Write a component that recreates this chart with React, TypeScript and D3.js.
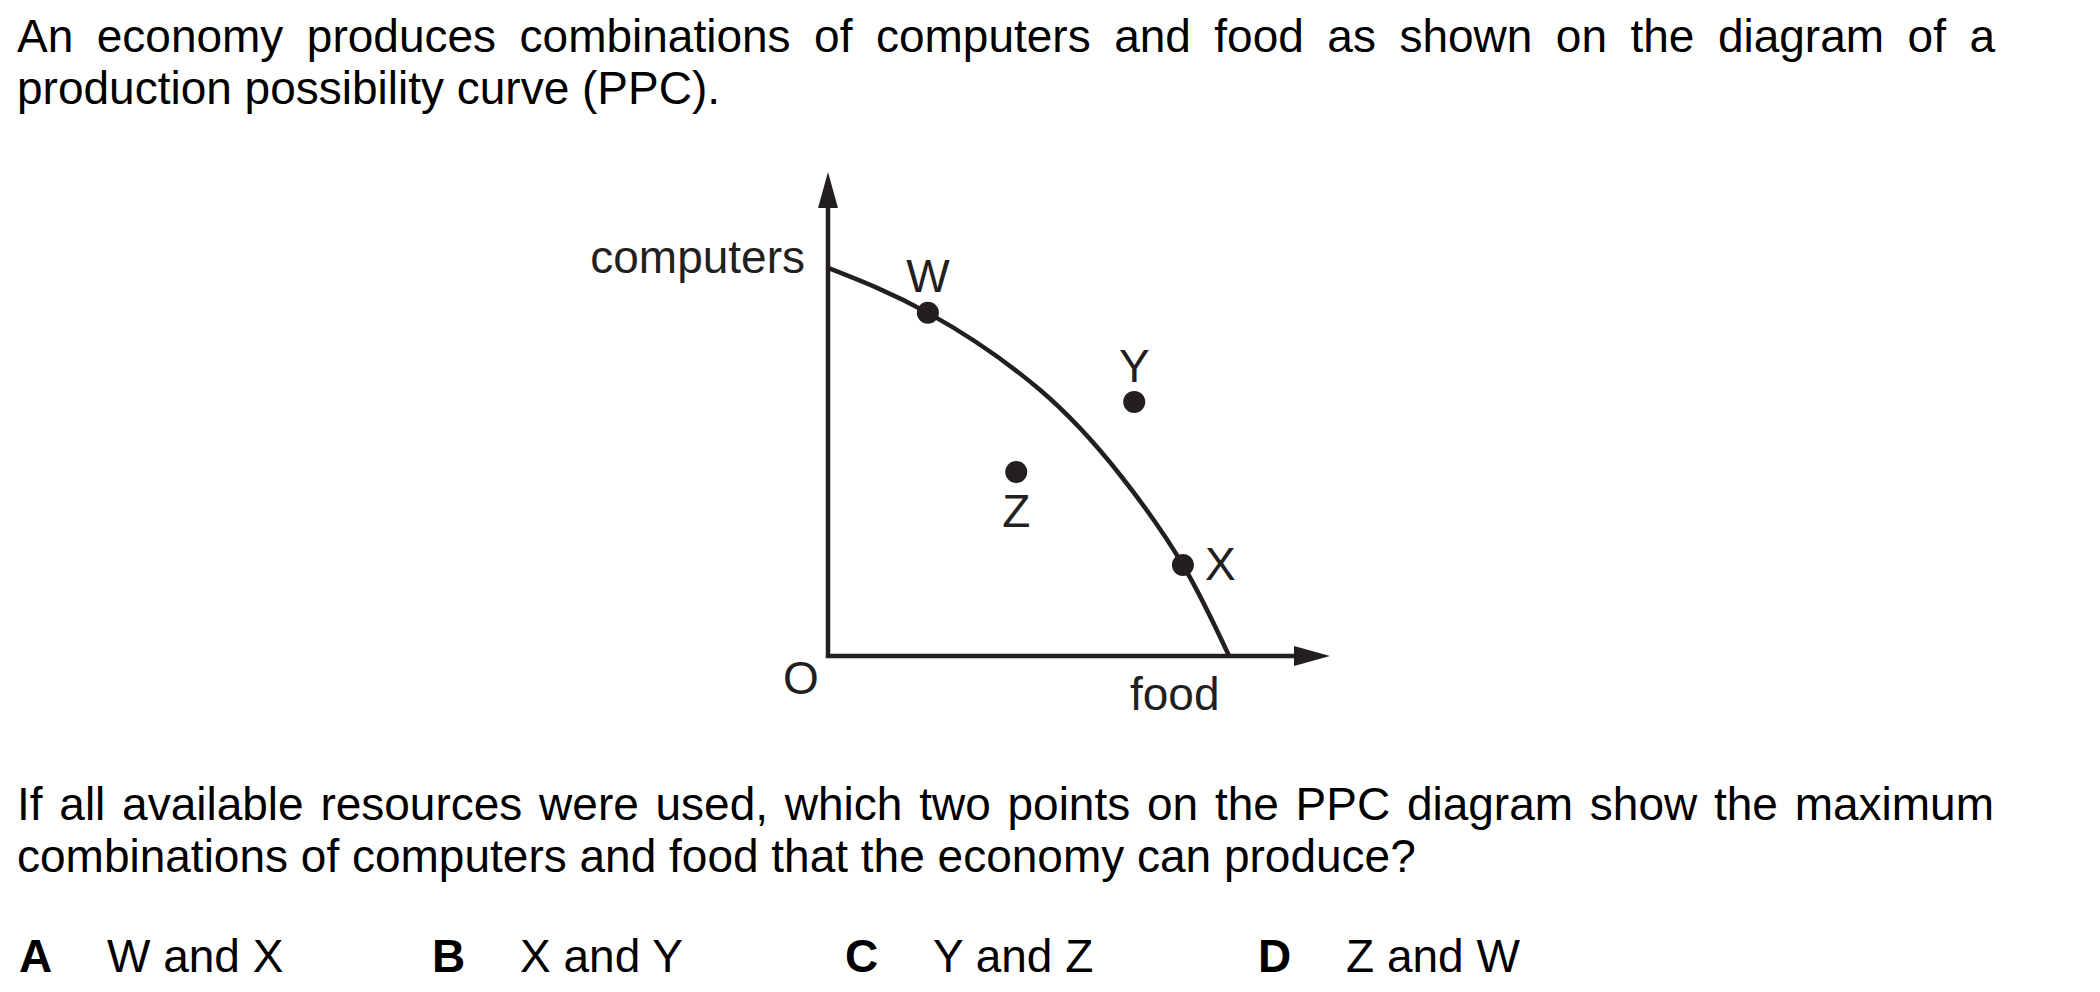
import React, { useEffect, useRef } from "react";
import * as d3 from "d3";

// ---- text content ----
const introLine1 = "An economy produces combinations of computers and food as shown on the diagram of a";
const introLine2 = "production possibility curve (PPC).";
const questionLine1 = "If all available resources were used, which two points on the PPC diagram show the maximum";
const questionLine2 = "combinations of computers and food that the economy can produce?";
const optionLetters = ["A", "B", "C", "D"];
const optionTexts = ["W and X", "X and Y", "Y and Z", "Z and W"];

// ---- diagram data (food, computers in arbitrary units 0..10) ----
const curveFood = [0, 1.99, 4.22, 5.82, 7.07, 7.99];
const curveComputers = [8.02, 7.09, 5.5, 3.74, 1.88, 0];
const pointNames = ["W", "X", "Y", "Z"];
const pointFood = [1.99, 7.07, 6.1, 3.75];
const pointComputers = [7.09, 1.88, 5.25, 3.8];
const axisLabelY = "computers";
const axisLabelX = "food";
const originLabel = "O";

const FONT = "'Liberation Sans', Arial, Helvetica, sans-serif";
const FS = 46;
const INK = "#231f20";

export default function App() {
  const ref = useRef<SVGSVGElement>(null);

  useEffect(() => {
    const draw = () => {
      const svg = d3.select(ref.current);
      svg.selectAll("*").remove();
      svg.append("rect").attr("width", 2100).attr("height", 992).attr("fill", "#fff");

      const textG = svg.append("g").attr("font-family", FONT).attr("font-size", FS).attr("fill", "#000");

      const justify = (line: string, x0: number, x1: number, y: number) => {
        const words = line.split(" ");
        const nodes = words.map((w) => textG.append("text").attr("x", 0).attr("y", y).text(w));
        const widths = nodes.map((n) => (n.node() as SVGTextElement).getComputedTextLength());
        const total = d3.sum(widths);
        const gap = (x1 - x0 - total) / (words.length - 1);
        let cx = x0;
        nodes.forEach((n, i) => {
          n.attr("x", cx);
          cx += widths[i] + gap;
        });
      };

      justify(introLine1, 17, 1995, 52);
      textG.append("text").attr("x", 17).attr("y", 104).text(introLine2);
      justify(questionLine1, 17, 1994, 820);
      textG.append("text").attr("x", 17).attr("y", 872).text(questionLine2);

      optionLetters.forEach((l, i) => {
        const lx = 19 + i * 413;
        textG.append("text").attr("x", lx).attr("y", 972).attr("font-weight", "bold").text(l);
        textG.append("text").attr("x", lx + 88).attr("y", 972).text(optionTexts[i]);
      });

      // ---- diagram ----
      const x = d3.scaleLinear().domain([0, 10]).range([828, 1330]);
      const y = d3.scaleLinear().domain([0, 10]).range([656, 172]);
      const g = svg.append("g");
      const sw = 4.5;
      const arrowLen = 36;
      const arrowHalf = 10;

      // axes
      g.append("path")
        .attr("d", `M${x(0)},${y(10) + arrowLen - 1} V${y(0)} H${x(10) - arrowLen + 1}`)
        .attr("fill", "none")
        .attr("stroke", INK)
        .attr("stroke-width", sw)
        .attr("stroke-linejoin", "miter");
      g.append("path")
        .attr(
          "d",
          `M${x(0)},${y(10)} L${x(0) - arrowHalf},${y(10) + arrowLen} L${x(0) + arrowHalf},${y(10) + arrowLen} Z`
        )
        .attr("fill", INK);
      g.append("path")
        .attr(
          "d",
          `M${x(10)},${y(0)} L${x(10) - arrowLen},${y(0) - arrowHalf} L${x(10) - arrowLen},${y(0) + arrowHalf} Z`
        )
        .attr("fill", INK);

      // curve
      const curveData = curveFood.map((f, i) => [f, curveComputers[i]] as [number, number]);
      const line = d3
        .line<[number, number]>()
        .x((d) => x(d[0]))
        .y((d) => y(d[1]))
        .curve(d3.curveNatural);
      g.append("path")
        .attr("d", line(curveData) as string)
        .attr("fill", "none")
        .attr("stroke", INK)
        .attr("stroke-width", sw);

      // points
      const labelOffsets: Record<string, { dx: number; dy: number; anchor: string }> = {
        W: { dx: 0, dy: -21, anchor: "middle" },
        X: { dx: 22, dy: 15, anchor: "start" },
        Y: { dx: 0, dy: -20, anchor: "middle" },
        Z: { dx: 0, dy: 55, anchor: "middle" },
      };
      pointNames.forEach((name, i) => {
        const px = x(pointFood[i]);
        const py = y(pointComputers[i]);
        g.append("circle").attr("cx", px).attr("cy", py).attr("r", 11).attr("fill", INK);
        const o = labelOffsets[name];
        g.append("text")
          .attr("x", px + o.dx)
          .attr("y", py + o.dy)
          .attr("text-anchor", o.anchor)
          .attr("font-family", FONT)
          .attr("font-size", FS)
          .attr("fill", INK)
          .text(name);
      });

      // axis labels
      g.append("text")
        .attr("x", 805)
        .attr("y", 273)
        .attr("text-anchor", "end")
        .attr("font-family", FONT)
        .attr("font-size", FS)
        .attr("fill", INK)
        .text(axisLabelY);
      g.append("text")
        .attr("x", 1130)
        .attr("y", 710)
        .attr("font-family", FONT)
        .attr("font-size", FS)
        .attr("fill", INK)
        .text(axisLabelX);
      g.append("text")
        .attr("x", 801)
        .attr("y", 694)
        .attr("text-anchor", "middle")
        .attr("font-family", FONT)
        .attr("font-size", FS)
        .attr("fill", INK)
        .text(originLabel);
    };
    draw();
    if ((document as any).fonts && (document as any).fonts.ready) {
      (document as any).fonts.ready.then(draw);
    }
  }, []);

  return (
    <svg
      ref={ref}
      width={2100}
      height={992}
      style={{ position: "absolute", left: 0, top: 0, display: "block" }}
    />
  );
}
